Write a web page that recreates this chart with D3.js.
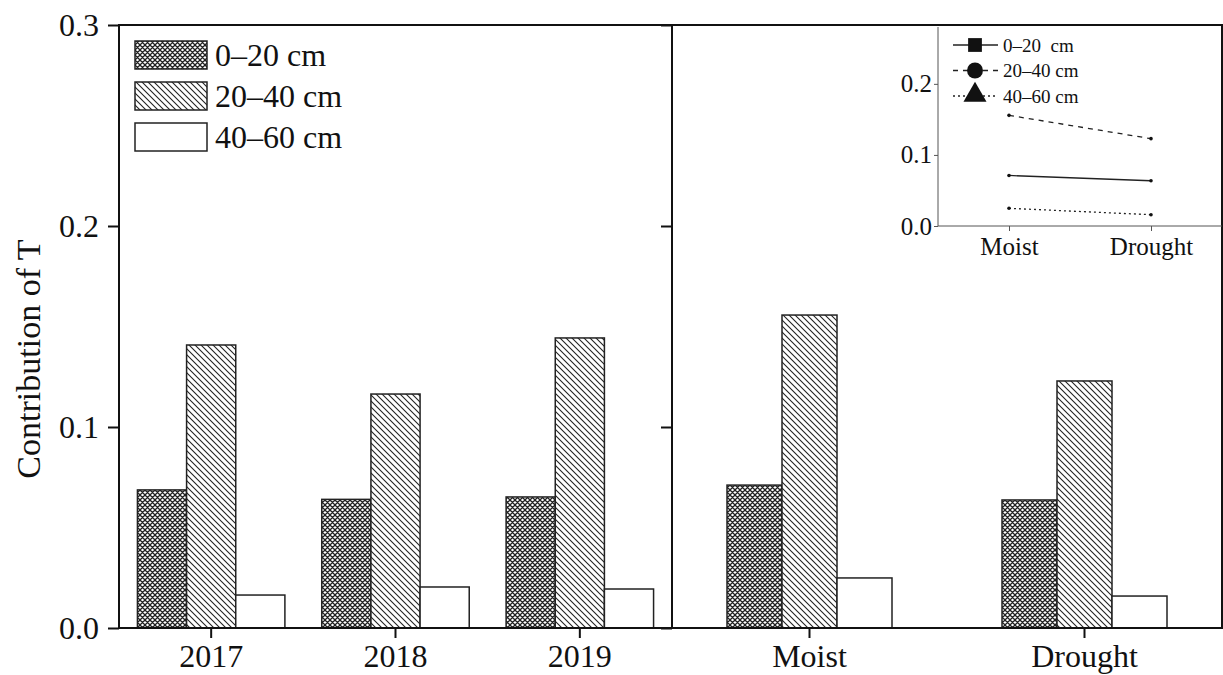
<!DOCTYPE html>
<html>
<head>
<meta charset="utf-8">
<script src="https://cdn.jsdelivr.net/npm/d3@7"></script>
<style>
  body { margin: 0; background: #fff; }
  svg { display: block; font-family: "Liberation Serif", "Times New Roman", serif; }
</style>
</head>
<body>
<svg id="chart" width="1223" height="675"></svg>
<script>
// values
var years = ["2017", "2018", "2019"];
var conditions = ["Moist", "Drought"];
var depths = ["0–20 cm", "20–40 cm", "40–60 cm"];
var yearValues = [
  [0.0687, 0.0640, 0.0652],   // 0-20 cm
  [0.1408, 0.1164, 0.1443],   // 20-40 cm
  [0.0164, 0.0204, 0.0194]    // 40-60 cm
];
var conditionValues = [
  [0.0711, 0.0637],
  [0.1557, 0.1229],
  [0.0249, 0.0159]
];
var yTicks = [0.0, 0.1, 0.2, 0.3];
var insetTicks = [0.0, 0.1, 0.2];
var insetLabels = ["0–20  cm", "20–40 cm", "40–60 cm"];

(function() {
var svg = d3.select("#chart");
var pLeft = 119, pMid = 672, pRight = 1222, pTop = 25, pBottom = 628;

// patterns
var defs = svg.append("defs");
var cross = defs.append("pattern").attr("id", "cross")
  .attr("patternUnits", "userSpaceOnUse").attr("width", 5).attr("height", 5);
cross.append("rect").attr("width", 5).attr("height", 5).attr("fill", "#fff");
cross.append("path").attr("d", "M0,0L5,5M5,0L0,5M-1,4L1,6M4,-1L6,1M-1,1L1,-1M4,6L6,4")
  .attr("stroke", "#222").attr("stroke-width", 1.3);
var hatch = defs.append("pattern").attr("id", "hatch")
  .attr("patternUnits", "userSpaceOnUse").attr("width", 6).attr("height", 6);
hatch.append("rect").attr("width", 6).attr("height", 6).attr("fill", "#fff");
hatch.append("path").attr("d", "M0,0L6,6M-3,3L3,9M3,-3L9,3")
  .attr("stroke", "#222").attr("stroke-width", 1.1);
var fills = ["url(#cross)", "url(#hatch)", "#fff"];

var y = d3.scaleLinear().domain([0, 0.3]).range([pBottom, pTop]);
var xYear = d3.scaleBand().domain(years).range([pLeft, pMid]).padding(0);
var xCond = d3.scaleBand().domain(conditions).range([pMid, pRight]).padding(0);
var subYear = d3.scaleBand().domain(d3.range(3)).range([0, xYear.bandwidth() * 0.8]);
var subCond = d3.scaleBand().domain(d3.range(3)).range([0, xCond.bandwidth() * 0.6]);

function drawBars(cats, values, x, sub, frac) {
  var off = x.bandwidth() * (1 - frac) / 2;
  depths.forEach(function(d, i) {
    svg.append("g").selectAll("rect").data(cats).enter().append("rect")
      .attr("x", function(c) { return x(c) + off + sub(i); })
      .attr("y", function(c, j) { return y(values[i][j]); })
      .attr("width", sub.bandwidth())
      .attr("height", function(c, j) { return y(0) - y(values[i][j]); })
      .attr("fill", fills[i])
      .attr("stroke", "#222").attr("stroke-width", 1.5);
  });
}
drawBars(years, yearValues, xYear, subYear, 0.8);
drawBars(conditions, conditionValues, xCond, subCond, 0.6);

// axes
var axisFont = 32;
svg.append("g").attr("class", "main").attr("transform", "translate(" + pLeft + ",0)")
  .call(d3.axisLeft(y).tickValues(yTicks).tickFormat(d3.format(".1f")).tickSize(11).tickPadding(9));
svg.append("g").attr("class", "main").attr("transform", "translate(" + pMid + ",0)")
  .call(d3.axisLeft(y).tickValues(yTicks).tickFormat("").tickSize(11));
svg.append("g").attr("class", "main").attr("transform", "translate(0," + pBottom + ")")
  .call(d3.axisBottom(xYear).tickSize(10).tickPadding(6));
svg.append("g").attr("class", "main").attr("transform", "translate(0," + pBottom + ")")
  .call(d3.axisBottom(xCond).tickSize(10).tickPadding(6));
svg.selectAll(".main .domain").remove();
svg.selectAll(".main .tick line").attr("stroke", "#111").attr("stroke-width", 2);
svg.selectAll(".main .tick text").attr("font-size", axisFont).attr("fill", "#111")
  .attr("font-family", "Liberation Serif, serif");

// frame lines
var frame = [[pLeft, pTop, pRight, pTop], [pLeft, pTop, pLeft, pBottom], [pLeft, pBottom, pRight, pBottom],
             [pMid, pTop, pMid, pBottom], [pRight, pTop, pRight, pBottom]];
svg.append("g").selectAll("line").data(frame).enter().append("line")
  .attr("x1", function(d) { return d[0]; }).attr("y1", function(d) { return d[1]; })
  .attr("x2", function(d) { return d[2]; }).attr("y2", function(d) { return d[3]; })
  .attr("stroke", "#111").attr("stroke-width", 2).attr("stroke-linecap", "square");

// y title
svg.append("text").attr("transform", "translate(40,359) rotate(-90)")
  .attr("text-anchor", "middle").attr("font-size", 34).attr("fill", "#111")
  .text("Contribution of T");

// bar legend
var leg = svg.append("g");
depths.forEach(function(d, i) {
  var ly = 41 + i * 41;
  leg.append("rect").attr("x", 135).attr("y", ly).attr("width", 72).attr("height", 28)
    .attr("fill", fills[i]).attr("stroke", "#222").attr("stroke-width", 1.5);
  leg.append("text").attr("x", 215).attr("y", ly + 14).attr("dy", "0.35em")
    .attr("font-size", 32).attr("fill", "#111").text(d);
});

// inset
var iLeft = 938, iBottom = 226, iTop = 27;
var iy = d3.scaleLinear().domain([0, 0.28]).range([iBottom, iTop]);
var ix = d3.scalePoint().domain(conditions).range([iLeft, pRight]).padding(0.5);
var inset = svg.append("g");
inset.append("rect").attr("x", iLeft).attr("y", iTop).attr("width", pRight - iLeft - 1)
  .attr("height", iBottom - iTop).attr("fill", "#fff");
var iya = inset.append("g").attr("transform", "translate(" + iLeft + ",0)")
  .call(d3.axisLeft(iy).tickValues(insetTicks).tickFormat(d3.format(".1f")).tickSize(4).tickPadding(2));
var ixa = inset.append("g").attr("transform", "translate(0," + iBottom + ")")
  .call(d3.axisBottom(ix).tickSize(5).tickPadding(6));
inset.selectAll(".domain").attr("stroke", "#555").attr("stroke-width", 1);
inset.selectAll(".tick line").attr("stroke", "#555").attr("stroke-width", 1);
inset.selectAll(".tick text").attr("font-size", 25).attr("fill", "#111")
  .attr("font-family", "Liberation Serif, serif");
iya.select(".domain").attr("d", "M0," + iTop + "V" + iBottom);
ixa.select(".domain").attr("d", "M" + iLeft + ",0H" + pRight);

var dashes = [null, "5,5", "2,3"];
var line = d3.line().x(function(d, j) { return ix(conditions[j]); }).y(function(d) { return iy(d); });
conditionValues.forEach(function(vals, i) {
  inset.append("path").attr("d", line(vals)).attr("fill", "none")
    .attr("stroke", "#222").attr("stroke-width", 1.3).attr("stroke-dasharray", dashes[i]);
  inset.selectAll(null).data(vals).enter().append("circle")
    .attr("cx", function(d, j) { return ix(conditions[j]); })
    .attr("cy", function(d) { return iy(d); }).attr("r", 1.8).attr("fill", "#111");
});

// inset legend
var symbols = [d3.symbolSquare, d3.symbolCircle, d3.symbolTriangle];
var symSizes = [190, 200, 230];
insetLabels.forEach(function(d, i) {
  var ly = 45 + i * 25.5;
  inset.append("line").attr("x1", 953).attr("x2", 998).attr("y1", ly).attr("y2", ly)
    .attr("stroke", "#222").attr("stroke-width", 1.3).attr("stroke-dasharray", dashes[i]);
  inset.append("path").attr("d", d3.symbol().type(symbols[i]).size(symSizes[i])())
    .attr("transform", "translate(975," + (i === 2 ? ly - 1 : ly) + ")").attr("fill", "#111");
  inset.append("text").attr("x", 1003).attr("y", ly).attr("dy", "0.35em")
    .attr("font-size", 19).attr("fill", "#111")
    .style("white-space", "pre").text(d);
});
})();
</script>
</body>
</html>
